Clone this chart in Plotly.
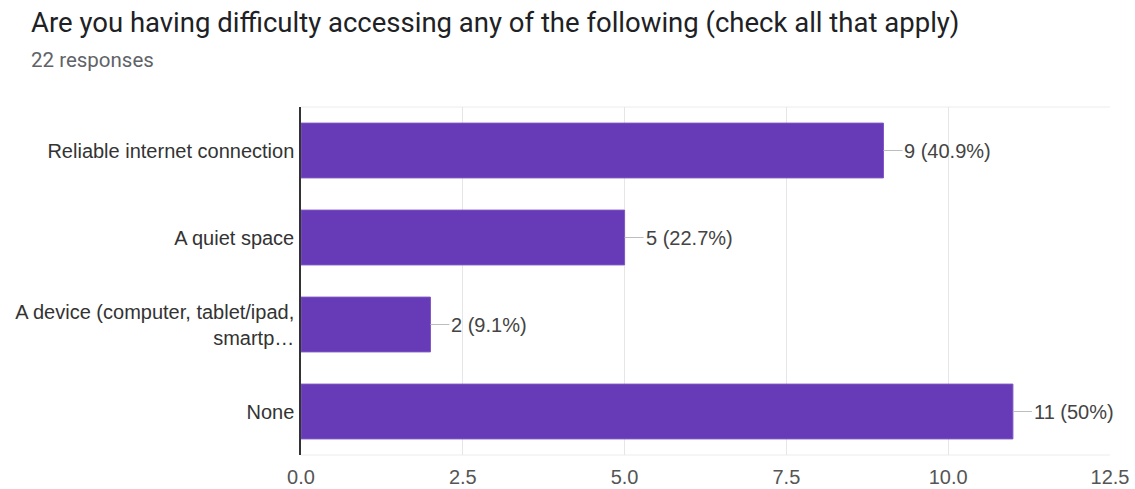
import plotly.graph_objects as go

categories = ["Reliable internet connection", "A quiet space",
              "A device (computer, tablet/ipad,<br>smartp…", "None"]
counts = [9, 5, 2, 11]
percents = ["40.9%", "22.7%", "9.1%", "50%"]
tick_vals = [0, 2.5, 5, 7.5, 10, 12.5]
tick_text = ["0.0", "2.5", "5.0", "7.5", "10.0", "12.5"]

FONT = "Liberation Sans, Arial, sans-serif"
TFONT = "Roboto, Arial, sans-serif"

W, H = 1135, 489
L, T, PW, PH = 301, 107, 809, 348

fig = go.Figure(go.Bar(
    x=counts, y=categories, orientation="h",
    marker=dict(color="#673ab7", line=dict(color="#7e57c2", width=1)),
    width=0.63, hoverinfo="skip",
))

for c, v, p in zip(categories, counts, percents):
    fig.add_annotation(
        x=v, y=c, xref="x", yref="y", text=f"{v} ({p})",
        showarrow=True, arrowhead=0, arrowwidth=1.2, arrowcolor="#bdbdbd",
        ax=19, ay=0, xanchor="left", yanchor="middle",
        font=dict(family=FONT, size=20, color="#444444"),
    )

fig.add_annotation(
    text="Are you having difficulty accessing any of the following (check all that apply)",
    xref="paper", yref="paper", x=(29 - L) / PW, y=1 + (T - 22) / PH,
    xanchor="left", yanchor="middle", showarrow=False,
    font=dict(family=TFONT, size=27.5, color="#202124"),
)
fig.add_annotation(
    text="22 responses", xref="paper", yref="paper",
    x=(29 - L) / PW, y=1 + (T - 60) / PH,
    xanchor="left", yanchor="middle", showarrow=False,
    font=dict(family=TFONT, size=20.5, color="#5f6368"),
)

fig.update_layout(
    width=W, height=H,
    margin=dict(l=L, r=W - L - PW, t=T, b=H - T - PH, autoexpand=False),
    plot_bgcolor="white", paper_bgcolor="white",
    showlegend=False,
    xaxis=dict(range=[0, 12.5], tickvals=tick_vals, ticktext=tick_text,
               showgrid=True, gridcolor="#e6e6e6", gridwidth=1, automargin=False,
               zeroline=False, showline=False, ticks="", ticklabelstandoff=8,
               tickfont=dict(family=FONT, size=20, color="#555555")),
    yaxis=dict(autorange="reversed", showline=True, linecolor="#333333",
               linewidth=1.5, ticks="", ticklabelstandoff=1, automargin=False,
               tickfont=dict(family=FONT, size=20, color="#333333")),
)
for yy in (0, 1):
    fig.add_shape(type="line", xref="paper", yref="paper", x0=0, x1=1, y0=yy, y1=yy,
                  line=dict(color="#ececec", width=1), layer="below")

fig.write_html("out.html", config={"displayModeBar": False},
               post_script="document.body.style.margin='0';"
                           "document.body.style.overflow='hidden';")
